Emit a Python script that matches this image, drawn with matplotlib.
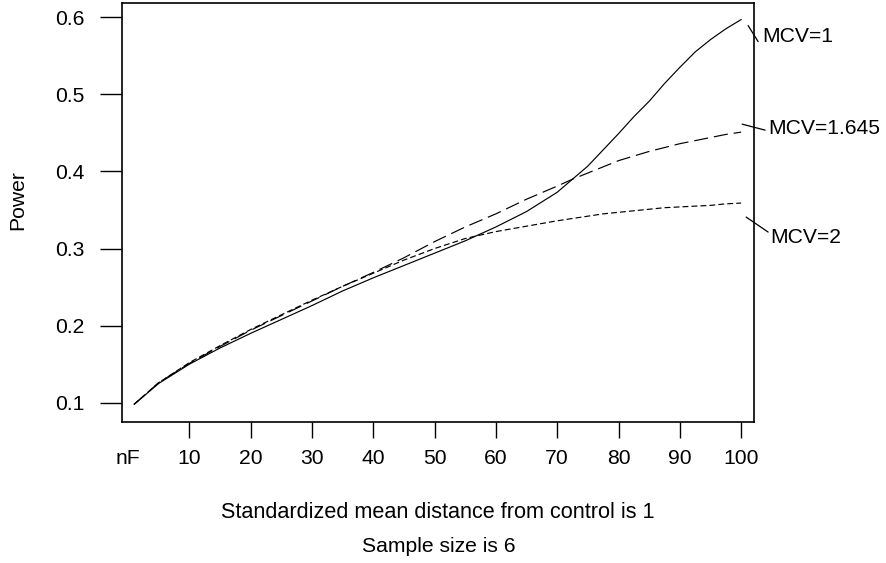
import matplotlib
matplotlib.use("Agg")
import matplotlib.pyplot as plt
import matplotlib.transforms as mtransforms

plt.rcParams['font.family'] = ['Liberation Sans', 'DejaVu Sans']

# ---- data ----
nF = [1, 5, 10, 15, 20, 25, 30, 35, 40, 45, 50, 55, 60, 65, 70, 72.5, 75, 77.5, 80,
      82.5, 85, 87.5, 90, 92.5, 95, 97.5, 100]
power_mcv1 = [0.098, 0.125, 0.150, 0.171, 0.190, 0.208, 0.226, 0.245, 0.262, 0.278, 0.294,
              0.310, 0.328, 0.348, 0.373, 0.390, 0.407, 0.428, 0.449,
              0.471, 0.491, 0.514, 0.535, 0.555, 0.571, 0.585, 0.597]
power_mcv1645 = [0.098, 0.126, 0.151, 0.173, 0.194, 0.213, 0.232, 0.251, 0.269, 0.288, 0.309,
                 0.328, 0.345, 0.364, 0.381, 0.390, 0.398, 0.406, 0.414,
                 0.420, 0.426, 0.431, 0.436, 0.440, 0.444, 0.448, 0.451]
power_mcv2 = [0.098, 0.126, 0.152, 0.174, 0.195, 0.214, 0.233, 0.251, 0.268, 0.285, 0.300,
              0.313, 0.322, 0.329, 0.336, 0.339, 0.342, 0.345, 0.347,
              0.349, 0.351, 0.353, 0.354, 0.355, 0.356, 0.358, 0.359]
series_labels = ["MCV=1", "MCV=1.645", "MCV=2"]
x_ticks = [0, 10, 20, 30, 40, 50, 60, 70, 80, 90, 100]
x_ticklabels = ["nF", "10", "20", "30", "40", "50", "60", "70", "80", "90", "100"]
y_ticks = [0.1, 0.2, 0.3, 0.4, 0.5, 0.6]
y_ticklabels = ["0.1", "0.2", "0.3", "0.4", "0.5", "0.6"]

W, H = 886, 563
fig = plt.figure(figsize=(W / 100, H / 100), dpi=100)
L, R, T, B = 121.7, 754.0, 2.7, 421.7
ax = fig.add_axes([L / W, 1 - B / H, (R - L) / W, (B - T) / H])

FS = 15.2
lw = 0.85
ax.plot(nF, power_mcv1, color='black', lw=lw, linestyle='-')
ax.plot(nF, power_mcv1645, color='black', lw=lw, linestyle=(0, (12, 5)))
ax.plot(nF, power_mcv2, color='black', lw=lw, linestyle=(0, (5, 2.6)))

ax.set_xlim(-1.03, 102.1)
ax.set_ylim(0.0754, 0.6189)

ax.set_xticks(x_ticks)
ax.set_xticklabels(x_ticklabels, fontsize=FS)
ax.set_yticks(y_ticks)
ax.set_yticklabels(y_ticklabels, fontsize=FS)
ax.tick_params(axis='x', direction='out', length=11.5, width=1.0, pad=8)
ax.tick_params(axis='y', direction='out', length=15.5, width=1.0, pad=11)
ax.xaxis.get_major_ticks()[0].tick1line.set_visible(False)
for sp in ax.spines.values():
    sp.set_linewidth(1.2)

# right-hand labels with leader lines (offsets in pixels from each series end)
ends = [power_mcv1[-1], power_mcv1645[-1], power_mcv2[-1]]
leaders = [((7, -6), (17, -22)), ((1, 8), (24, 2)), ((5, -14), (27, -29))]
text_off = [(21, -17), (27, 4), (29, -34)]
xv = nF[-1]
for lab, yv, (p0, p1), toff in zip(series_labels, ends, leaders, text_off):
    tr1 = mtransforms.offset_copy(ax.transData, fig=fig, x=p1[0], y=p1[1], units='dots')
    ax.annotate('', xy=(xv, yv), xycoords=tr1,
                xytext=(p0[0] - p1[0], p0[1] - p1[1]), textcoords='offset pixels',
                arrowprops=dict(arrowstyle='-', lw=0.9, color='black',
                                shrinkA=0, shrinkB=0),
                annotation_clip=False)
    ax.annotate(lab, xy=(xv, yv), xycoords='data',
                xytext=toff, textcoords='offset pixels',
                ha='left', va='center', fontsize=FS, annotation_clip=False)

fig.text(18 / W, 1 - 200 / H, "Power", rotation=90, ha='center', va='center', fontsize=FS)
fig.text(437.5 / W, 1 - 512 / H, "Standardized mean distance from control is 1",
         ha='center', va='center', fontsize=15.6)
fig.text(439 / W, 1 - 546 / H, "Sample size is 6", ha='center', va='center', fontsize=FS)

fig.savefig("out.png", dpi=100)
